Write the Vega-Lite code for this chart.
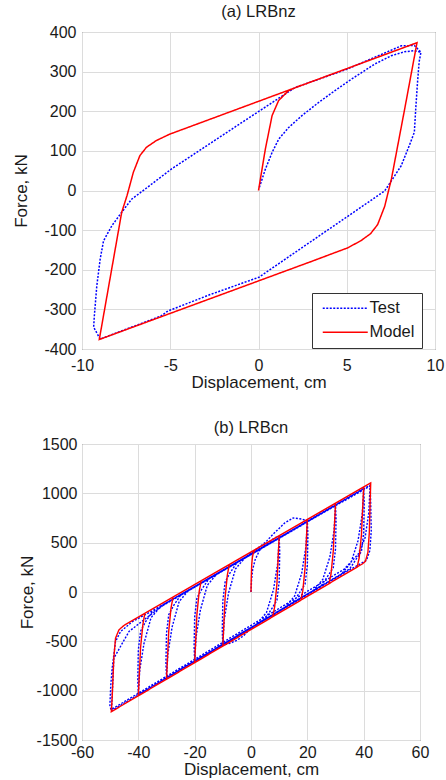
{
"$schema": "https://vega.github.io/schema/vega-lite/v6.json",
"padding": {"left": 12, "top": 3, "right": 0, "bottom": 0},
"background": "white",
"spacing": 28,
"resolve": {"scale": {"color": "independent", "strokeDash": "independent"}, "legend": {"color": "independent", "strokeDash": "independent"}},
"config": {
  "font": "Liberation Sans",
  "view": {"stroke": "#404040", "strokeWidth": 1},
  "axis": {"labelFont": "Liberation Sans", "labelFontSize": 16, "labelColor": "#1a1a1a", "titleFont": "Liberation Sans", "titleFontSize": 17, "titleFontWeight": "normal", "titleColor": "#1a1a1a", "grid": true, "gridColor": "#dcdcdc", "gridWidth": 1, "domain": false, "ticks": false, "labelFlush": false, "labelOverlap": false, "labelExpr": "'' + datum.value"},
  "title": {"font": "Liberation Sans", "fontSize": 16.5, "fontWeight": "normal", "color": "#1a1a1a", "anchor": "middle"}
},
"datasets": {
  "a": [
    {"s":"Test","x":0.05,"y":8},{"s":"Test","x":0.39,"y":54},{"s":"Test","x":0.77,"y":96},{"s":"Test","x":1.15,"y":130},{"s":"Test","x":1.71,"y":159},{"s":"Test","x":2.46,"y":189},{"s":"Test","x":3.4,"y":222},{"s":"Test","x":4.33,"y":252},{"s":"Test","x":5.27,"y":281},{"s":"Test","x":6.58,"y":319},{"s":"Test","x":7.52,"y":340},{"s":"Test","x":8.27,"y":350},{"s":"Test","x":8.83,"y":353},{"s":"Test","x":9.2,"y":349},{"s":"Test","x":9.1,"y":324},{"s":"Test","x":9.01,"y":273},{"s":"Test","x":8.92,"y":214},{"s":"Test","x":8.83,"y":147},{"s":"Test","x":8.54,"y":113},{"s":"Test","x":8.08,"y":62},{"s":"Test","x":7.15,"y":-1},{"s":"Test","x":5.65,"y":-47},{"s":"Test","x":0.02,"y":-219},{"s":"Test","x":-2.7,"y":-262},{"s":"Test","x":-5.13,"y":-304},{"s":"Test","x":-5.5,"y":-316},{"s":"Test","x":-8.97,"y":-375},{"s":"Test","x":-9.34,"y":-345},{"s":"Test","x":-9.3,"y":-316},{"s":"Test","x":-9.16,"y":-240},{"s":"Test","x":-8.97,"y":-173},{"s":"Test","x":-8.78,"y":-127},{"s":"Test","x":-8.31,"y":-89},{"s":"Test","x":-7.75,"y":-55},{"s":"Test","x":-7.19,"y":-22},{"s":"Test","x":-6.44,"y":3},{"s":"Test","x":-4.94,"y":54},{"s":"Test","x":-0.35,"y":189},{"s":"Test","x":2.08,"y":260},{"s":"Test","x":5,"y":306},{"s":"Test","x":8.09,"y":365},{"s":"Test","x":8.83,"y":366},{"s":"Test","x":9.2,"y":349},
    {"s":"Model","x":0,"y":0},{"s":"Model","x":0.39,"y":105},{"s":"Model","x":0.77,"y":189},{"s":"Model","x":1.14,"y":227},{"s":"Model","x":1.7,"y":252},{"s":"Model","x":2.27,"y":263},{"s":"Model","x":2.6,"y":268},{"s":"Model","x":8.98,"y":373},{"s":"Model","x":8.3,"y":210},{"s":"Model","x":7.53,"y":29},{"s":"Model","x":7.15,"y":-40},{"s":"Model","x":6.75,"y":-86},{"s":"Model","x":6.35,"y":-109},{"s":"Model","x":5.79,"y":-127},{"s":"Model","x":5.04,"y":-145},{"s":"Model","x":3,"y":-179},{"s":"Model","x":-9.02,"y":-376},{"s":"Model","x":-7.75,"y":-55},{"s":"Model","x":-7.45,"y":-13},{"s":"Model","x":-7.09,"y":46},{"s":"Model","x":-6.72,"y":88},{"s":"Model","x":-6.35,"y":109},{"s":"Model","x":-5.79,"y":126},{"s":"Model","x":-5.04,"y":142},{"s":"Model","x":8.98,"y":373}
  ],
  "b": [
    {"s":"Test","x":0,"y":0},{"s":"Test","x":0.2,"y":120},{"s":"Test","x":0.6,"y":230},{"s":"Test","x":1.5,"y":330},{"s":"Test","x":3,"y":420},{"s":"Test","x":5,"y":480},{"s":"Test","x":7.5,"y":530},{"s":"Test","x":9.5,"y":565},{"s":"Test","x":10,"y":560},
    {"s":"Test","x":10.2,"y":405},{"s":"Test","x":10,"y":105},{"s":"Test","x":9.2,"y":-85},{"s":"Test","x":7.5,"y":-164},{"s":"Test","x":5,"y":-271},{"s":"Test","x":0,"y":-365},{"s":"Test","x":-2.5,"y":-440},{"s":"Test","x":-5,"y":-490},{"s":"Test","x":-7.5,"y":-520},{"s":"Test","x":-10,"y":-540},
    {"s":"Test","x":-10.2,"y":-390},{"s":"Test","x":-10,"y":-90},{"s":"Test","x":-9.2,"y":100},{"s":"Test","x":-7.5,"y":191},{"s":"Test","x":-5,"y":298},{"s":"Test","x":0,"y":390},{"s":"Test","x":5,"y":470},{"s":"Test","x":10,"y":545},
    {"s":"Test","x":9.5,"y":295},{"s":"Test","x":8,"y":25},{"s":"Test","x":5.5,"y":-208},{"s":"Test","x":2,"y":-326},{"s":"Test","x":-5,"y":-444},{"s":"Test","x":-10,"y":-533},
    {"s":"Test","x":-9.5,"y":-283},{"s":"Test","x":-8,"y":-13},{"s":"Test","x":-5.5,"y":234},{"s":"Test","x":-2,"y":352},{"s":"Test","x":5,"y":500},{"s":"Test","x":8,"y":590},{"s":"Test","x":12,"y":700},{"s":"Test","x":15,"y":750},{"s":"Test","x":18,"y":740},{"s":"Test","x":20,"y":720},
    {"s":"Test","x":20.2,"y":570},{"s":"Test","x":20,"y":270},{"s":"Test","x":19.2,"y":80},{"s":"Test","x":17.5,"y":4},{"s":"Test","x":15,"y":-103},{"s":"Test","x":0,"y":-365},{"s":"Test","x":-5,"y":-460},{"s":"Test","x":-10,"y":-535},{"s":"Test","x":-20,"y":-701},
    {"s":"Test","x":-20.2,"y":-551},{"s":"Test","x":-20,"y":-251},{"s":"Test","x":-19.2,"y":-61},{"s":"Test","x":-17.5,"y":26},{"s":"Test","x":-15,"y":132},{"s":"Test","x":0,"y":385},{"s":"Test","x":10,"y":550},{"s":"Test","x":20,"y":715},
    {"s":"Test","x":19.5,"y":460},{"s":"Test","x":18,"y":190},{"s":"Test","x":15.5,"y":-40},{"s":"Test","x":12,"y":-158},{"s":"Test","x":0,"y":-370},{"s":"Test","x":-20,"y":-706},
    {"s":"Test","x":-19.5,"y":-456},{"s":"Test","x":-18,"y":-186},{"s":"Test","x":-15.5,"y":69},{"s":"Test","x":-12,"y":187},{"s":"Test","x":0,"y":380},{"s":"Test","x":30,"y":885},
    {"s":"Test","x":30.2,"y":735},{"s":"Test","x":30,"y":435},{"s":"Test","x":29.2,"y":245},{"s":"Test","x":27.5,"y":172},{"s":"Test","x":25,"y":65},{"s":"Test","x":-30,"y":-869},
    {"s":"Test","x":-30.2,"y":-719},{"s":"Test","x":-30,"y":-419},{"s":"Test","x":-29.2,"y":-229},{"s":"Test","x":-27.5,"y":-139},{"s":"Test","x":-25,"y":-33},{"s":"Test","x":30,"y":875},
    {"s":"Test","x":29.5,"y":625},{"s":"Test","x":28,"y":355},{"s":"Test","x":25.5,"y":128},{"s":"Test","x":22,"y":10},{"s":"Test","x":-30,"y":-874},
    {"s":"Test","x":-29.5,"y":-624},{"s":"Test","x":-28,"y":-354},{"s":"Test","x":-25.5,"y":-96},{"s":"Test","x":-22,"y":22},{"s":"Test","x":40,"y":1050},
    {"s":"Test","x":40.2,"y":900},{"s":"Test","x":40,"y":600},{"s":"Test","x":39.2,"y":410},{"s":"Test","x":37.5,"y":340},{"s":"Test","x":35,"y":233},{"s":"Test","x":-40,"y":-1037},
    {"s":"Test","x":-40.2,"y":-887},{"s":"Test","x":-40,"y":-587},{"s":"Test","x":-39.2,"y":-397},{"s":"Test","x":-37.5,"y":-304},{"s":"Test","x":-35,"y":-198},{"s":"Test","x":40,"y":1040},
    {"s":"Test","x":39.5,"y":790},{"s":"Test","x":38,"y":520},{"s":"Test","x":35.5,"y":296},{"s":"Test","x":32,"y":178},{"s":"Test","x":-40,"y":-1042},
    {"s":"Test","x":-39.5,"y":-792},{"s":"Test","x":-38,"y":-522},{"s":"Test","x":-35.5,"y":-261},{"s":"Test","x":-32,"y":-143},{"s":"Test","x":42.3,"y":1083},
    {"s":"Test","x":42.5,"y":900},{"s":"Test","x":42.7,"y":620},{"s":"Test","x":42.2,"y":420},{"s":"Test","x":41,"y":320},{"s":"Test","x":38.5,"y":280},{"s":"Test","x":35,"y":225},{"s":"Test","x":-49.6,"y":-1205},
    {"s":"Test","x":-50.1,"y":-1150},{"s":"Test","x":-49.8,"y":-950},{"s":"Test","x":-49.3,"y":-773},{"s":"Test","x":-48.1,"y":-502},{"s":"Test","x":-46.3,"y":-400},{"s":"Test","x":-42.1,"y":-300},{"s":"Test","x":-35,"y":-190},{"s":"Test","x":42.3,"y":1075},
    {"s":"Test","x":41.8,"y":800},{"s":"Test","x":40.5,"y":550},{"s":"Test","x":38,"y":380},{"s":"Test","x":33,"y":230},{"s":"Test","x":-49.5,"y":-1190},
    {"s":"Test","x":-49.2,"y":-1000},{"s":"Test","x":-48.7,"y":-671},{"s":"Test","x":-43.3,"y":-400},{"s":"Test","x":-37.3,"y":-266},{"s":"Test","x":-30,"y":-110},{"s":"Test","x":0,"y":385},
    {"s":"Model","x":0,"y":0},{"s":"Model","x":0.1,"y":150},{"s":"Model","x":0.25,"y":275},{"s":"Model","x":0.5,"y":350},{"s":"Model","x":0.8,"y":395},{"s":"Model","x":1.5,"y":430},
    {"s":"Model","x":10,"y":570},{"s":"Model","x":9.2,"y":80},{"s":"Model","x":8.4,"y":-150},{"s":"Model","x":7.7,"y":-251},
    {"s":"Model","x":-10,"y":-548},{"s":"Model","x":-9.2,"y":-58},{"s":"Model","x":-8.4,"y":172},{"s":"Model","x":-7.7,"y":278},
    {"s":"Model","x":20,"y":735},{"s":"Model","x":19.2,"y":245},{"s":"Model","x":18.4,"y":15},{"s":"Model","x":17.7,"y":-83},
    {"s":"Model","x":-20,"y":-716},{"s":"Model","x":-19.2,"y":-226},{"s":"Model","x":-18.4,"y":4},{"s":"Model","x":-17.7,"y":113},
    {"s":"Model","x":30,"y":900},{"s":"Model","x":29.2,"y":410},{"s":"Model","x":28.4,"y":180},{"s":"Model","x":27.7,"y":85},
    {"s":"Model","x":-30,"y":-884},{"s":"Model","x":-29.2,"y":-394},{"s":"Model","x":-28.4,"y":-164},{"s":"Model","x":-27.7,"y":-52},
    {"s":"Model","x":40,"y":1065},{"s":"Model","x":39.2,"y":575},{"s":"Model","x":38.4,"y":345},{"s":"Model","x":37.7,"y":253},
    {"s":"Model","x":-40,"y":-1052},{"s":"Model","x":-39.2,"y":-562},{"s":"Model","x":-38.4,"y":-332},{"s":"Model","x":-37.7,"y":-217},
    {"s":"Model","x":42.5,"y":1106},{"s":"Model","x":42.3,"y":920},{"s":"Model","x":42,"y":600},{"s":"Model","x":41.5,"y":400},{"s":"Model","x":40.6,"y":310},{"s":"Model","x":39.5,"y":284},
    {"s":"Model","x":-49.6,"y":-1213},{"s":"Model","x":-49.3,"y":-1077},{"s":"Model","x":-48.7,"y":-671},{"s":"Model","x":-48.1,"y":-469},{"s":"Model","x":-46.9,"y":-384},{"s":"Model","x":-45.1,"y":-339},{"s":"Model","x":0,"y":405}
  ]
},
"vconcat": [
  {
    "width": 353, "height": 317,
    "title": {"text": "(a) LRBnz", "offset": 4},
    "data": {"name": "a"},
    "mark": {"type": "line", "strokeWidth": 1.5},
    "encoding": {
      "x": {"field": "x", "type": "quantitative", "scale": {"domain": [-10, 10], "nice": false}, "axis": {"values": [-10, -5, 0, 5, 10], "title": "Displacement, cm", "labelPadding": 8, "titlePadding": 1}},
      "y": {"field": "y", "type": "quantitative", "scale": {"domain": [-400, 400], "nice": false}, "axis": {"values": [-400, -300, -200, -100, 0, 100, 200, 300, 400], "title": "Force, kN", "labelPadding": 6, "titlePadding": 13}},
      "order": {"value": null},
      "color": {"field": "s", "type": "nominal", "scale": {"domain": ["Test", "Model"], "range": ["#0000ff", "#ff0000"]},
        "legend": {"title": null, "orient": "none", "legendX": 230, "legendY": 261, "symbolType": "M-5,0H5", "symbolSize": 81, "symbolOffset": 18, "symbolStrokeWidth": 1.6, "symbolFillColor": "transparent", "labelFont": "Liberation Sans", "labelFontSize": 16.5, "labelColor": "#1a1a1a", "labelAlign": "left", "labelOffset": 16, "padding": 7, "rowPadding": 7, "strokeColor": "#333333", "fillColor": "white"}},
      "strokeDash": {"field": "s", "type": "nominal", "scale": {"domain": ["Test", "Model"], "range": [[2, 1.5], [1, 0]]},
        "legend": {"title": null, "orient": "none", "legendX": 230, "legendY": 261, "symbolType": "M-5,0H5", "symbolSize": 81, "symbolOffset": 18, "symbolStrokeWidth": 1.6, "symbolFillColor": "transparent", "labelFont": "Liberation Sans", "labelFontSize": 16.5, "labelColor": "#1a1a1a", "labelAlign": "left", "labelOffset": 16, "padding": 7, "rowPadding": 7, "strokeColor": "#333333", "fillColor": "white"}}
    }
  },
  {
    "width": 338, "height": 296,
    "title": {"text": "(b) LRBcn", "offset": 0},
    "data": {"name": "b"},
    "mark": {"type": "line", "strokeWidth": 1.4},
    "encoding": {
      "x": {"field": "x", "type": "quantitative", "scale": {"domain": [-60, 60], "nice": false}, "axis": {"values": [-60, -40, -20, 0, 20, 40, 60], "title": "Displacement, cm", "labelPadding": 4, "titlePadding": 1}},
      "y": {"field": "y", "type": "quantitative", "scale": {"domain": [-1500, 1500], "nice": false}, "axis": {"values": [-1500, -1000, -500, 0, 500, 1000, 1500], "title": "Force, kN", "labelPadding": 5, "titlePadding": 0}},
      "order": {"value": null},
      "color": {"field": "s", "type": "nominal", "scale": {"domain": ["Test", "Model"], "range": ["#0000ff", "#ff0000"]}, "legend": null},
      "strokeDash": {"field": "s", "type": "nominal", "scale": {"domain": ["Test", "Model"], "range": [[2, 1.5], [1, 0]]}, "legend": null}
    }
  }
]
}
